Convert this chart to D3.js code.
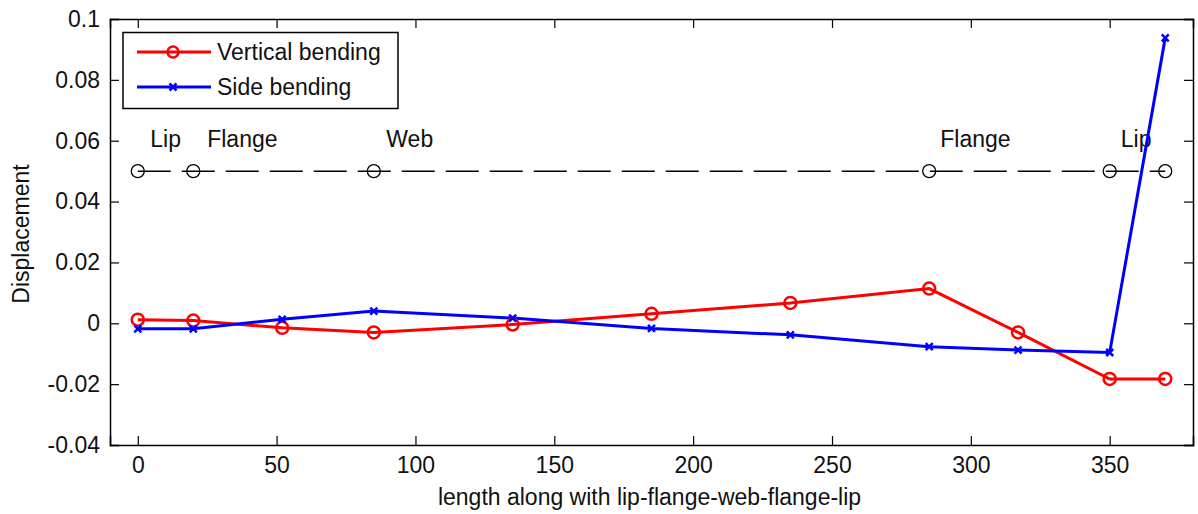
<!DOCTYPE html>
<html>
<head>
<meta charset="utf-8">
<script src="https://cdn.jsdelivr.net/npm/d3@7"></script>
<style>
  body { margin: 0; background: #fff; }
  svg { display: block; font-family: 'Liberation Sans', Arial, sans-serif; }
</style>
</head>
<body>
<svg class="svg"></svg>
<script>
// positions along the section (mm)
const xPos = [0, 20, 52, 85, 135, 185, 235, 285, 317, 350, 370];
const vertical = [0.0012, 0.0009, -0.0015, -0.003, -0.0004, 0.0031, 0.0067, 0.0114, -0.003, -0.0183, -0.0183];
const side = [-0.0018, -0.0018, 0.0013, 0.004, 0.0017, -0.0017, -0.0038, -0.0077, -0.0088, -0.0096, 0.0938];

const sectionX = [0, 20, 85, 285, 350, 370];
const sectionY = 0.05;
const sectionNames = ['Lip', 'Flange', 'Web', 'Flange', 'Lip'];
const sectionLabelX = [4.5, 25, 89.5, 289, 354];

const xTicks = [0, 50, 100, 150, 200, 250, 300, 350];
const yTicks = [-0.04, -0.02, 0, 0.02, 0.04, 0.06, 0.08, 0.1];

const width = 1198;
const height = 514;
const m = { left: 110, right: 5, top: 19, bottom: 69 };

const svg = d3.select('.svg').attr('width', width).attr('height', height);

const x = d3.scaleLinear().domain([-10, 380]).range([m.left, width - m.right]);
const y = d3.scaleLinear().domain([-0.04, 0.1]).range([height - m.bottom, m.top]);

const fs = 23;
const tickLen = 9;

// axes (box with inward ticks)
const xAxis = svg.append('g')
  .attr('transform', `translate(0,${y.range()[0]})`)
  .call(d3.axisBottom(x).tickValues(xTicks).tickSize(-tickLen).tickPadding(12).tickFormat(d3.format('d')));
const xTop = svg.append('g')
  .attr('transform', `translate(0,${m.top})`)
  .call(d3.axisTop(x).tickValues(xTicks).tickSize(-tickLen).tickFormat(''));
const yAxis = svg.append('g')
  .attr('transform', `translate(${m.left},0)`)
  .call(d3.axisLeft(y).tickValues(yTicks).tickSize(-tickLen).tickPadding(10).tickFormat(d => d === 0 ? '0' : String(+d.toFixed(2))));
const yRight = svg.append('g')
  .attr('transform', `translate(${width - m.right},0)`)
  .call(d3.axisRight(y).tickValues(yTicks).tickSize(-tickLen).tickFormat(''));

[xAxis, xTop, yAxis, yRight].forEach(g => {
  g.select('.domain').attr('stroke', '#000').attr('stroke-width', 1.5);
  g.selectAll('.tick line').attr('stroke', '#000').attr('stroke-width', 1.2);
  g.selectAll('text').attr('fill', '#111').style('font-size', fs + 'px').style('font-family', "'Liberation Sans', Arial, sans-serif");
});

// axis labels
svg.append('text')
  .attr('x', (x.range()[0] + x.range()[1]) / 2 - 2)
  .attr('y', 505)
  .attr('text-anchor', 'middle')
  .attr('fill', '#111')
  .style('font-size', fs + 'px')
  .text('length along with lip-flange-web-flange-lip');

svg.append('text')
  .attr('transform', `translate(29,${(y.range()[0] + y.range()[1]) / 2 + 2}) rotate(-90)`)
  .attr('text-anchor', 'middle')
  .attr('fill', '#111')
  .style('font-size', fs + 'px')
  .text('Displacement');

// section markers: dashed line with circles
svg.append('line')
  .attr('x1', x(sectionX[0])).attr('x2', x(sectionX[sectionX.length - 1]))
  .attr('y1', y(sectionY)).attr('y2', y(sectionY))
  .attr('stroke', '#000').attr('stroke-width', 1.5)
  .attr('stroke-dasharray', '33 11');

svg.append('g').selectAll('circle')
  .data(sectionX)
  .join('circle')
  .attr('cx', d => x(d)).attr('cy', y(sectionY))
  .attr('r', 6.5)
  .attr('fill', 'none').attr('stroke', '#000').attr('stroke-width', 1.3);

svg.append('g').selectAll('text')
  .data(sectionNames)
  .join('text')
  .attr('x', (d, i) => x(sectionLabelX[i]))
  .attr('y', y(0.0578))
  .attr('fill', '#111')
  .style('font-size', fs + 'px')
  .text(d => d);

// series
const line = d3.line().x(d => x(d[0])).y(d => y(d[1]));
const redData = xPos.map((v, i) => [v, vertical[i]]);
const blueData = xPos.map((v, i) => [v, side[i]]);

svg.append('path').datum(redData)
  .attr('d', line).attr('fill', 'none')
  .attr('stroke', '#ff0000').attr('stroke-width', 3);

svg.append('path').datum(blueData)
  .attr('d', line).attr('fill', 'none')
  .attr('stroke', '#0000ff').attr('stroke-width', 3);

svg.append('g').selectAll('circle')
  .data(redData)
  .join('circle')
  .attr('cx', d => x(d[0])).attr('cy', d => y(d[1]))
  .attr('r', 6)
  .attr('fill', 'none').attr('stroke', '#ff0000').attr('stroke-width', 2.5);

function cross(sel, s) {
  sel.append('path')
    .attr('d', `M${-s},${-s}L${s},${s}M${-s},${s}L${s},${-s}`)
    .attr('stroke', '#0000ff').attr('stroke-width', 2.5);
}

svg.append('g').selectAll('g')
  .data(blueData)
  .join('g')
  .attr('transform', d => `translate(${x(d[0])},${y(d[1])})`)
  .call(cross, 3.5);

// legend
const lg = svg.append('g');
lg.append('rect')
  .attr('x', 123).attr('y', 32.5).attr('width', 275).attr('height', 76)
  .attr('fill', '#fff').attr('stroke', '#000').attr('stroke-width', 1.5);

const legendItems = [
  { name: 'Vertical bending', color: '#ff0000', marker: 'circle' },
  { name: 'Side bending', color: '#0000ff', marker: 'cross' }
];
const row = lg.selectAll('g.row')
  .data(legendItems)
  .join('g')
  .attr('class', 'row')
  .attr('transform', (d, i) => `translate(0,${52 + i * 35})`);

row.append('line')
  .attr('x1', 137).attr('x2', 211)
  .attr('stroke', d => d.color).attr('stroke-width', 3);
row.filter(d => d.marker === 'circle').append('circle')
  .attr('cx', 173).attr('r', 5.5)
  .attr('fill', 'none').attr('stroke', d => d.color).attr('stroke-width', 2.5);
row.filter(d => d.marker === 'cross').append('g')
  .attr('transform', 'translate(173,0)')
  .call(cross, 3.5);
row.append('text')
  .attr('x', 217).attr('dy', '0.35em')
  .attr('fill', '#111')
  .style('font-size', fs + 'px')
  .text(d => d.name);
</script>
</body>
</html>
